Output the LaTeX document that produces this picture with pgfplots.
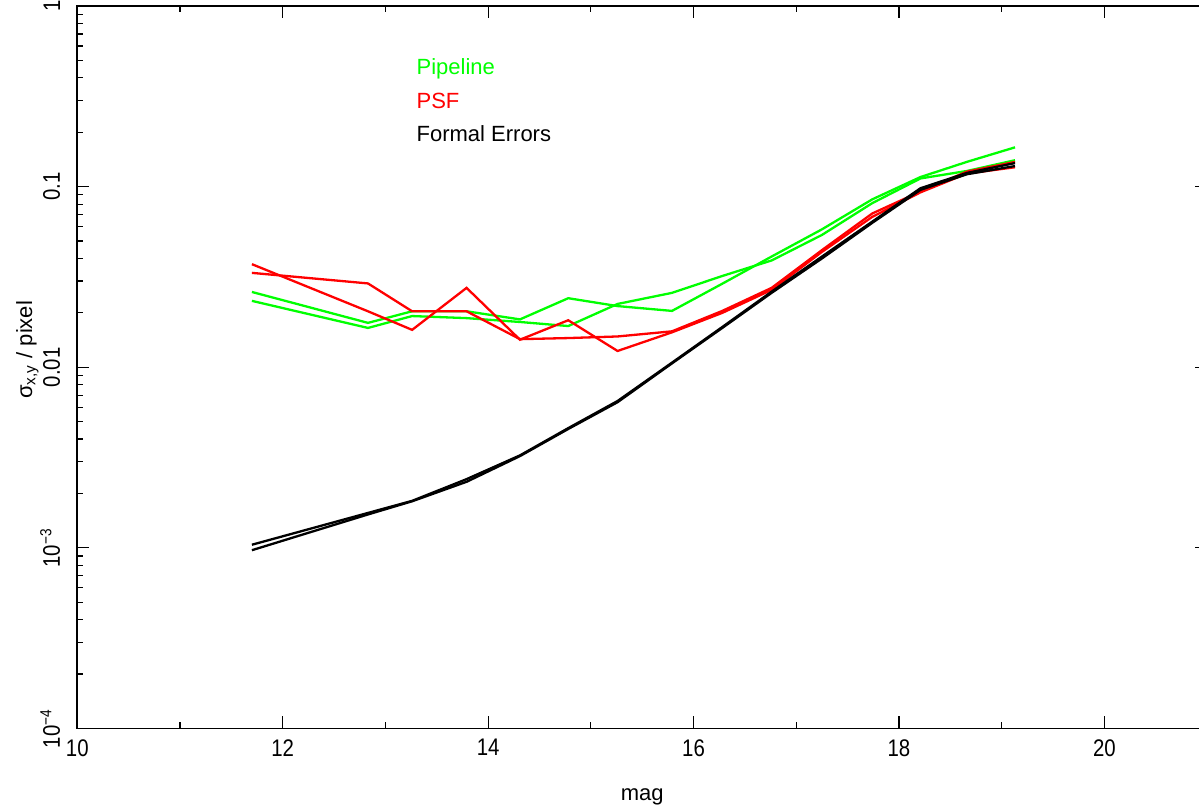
\documentclass[border=0pt]{standalone}
\usepackage{fontspec}
\setmainfont{Liberation Sans}
\newfontfamily\tickfont{Liberation Sans}[FakeStretch=0.85]
\usepackage{pgfplots}
\pgfplotsset{compat=1.18}
\definecolor{pgreen}{RGB}{0,255,0}
\definecolor{pred}{RGB}{255,0,0}

\begin{document}
\begin{tikzpicture}
\begin{axis}[name=ax, at={(0,0)}, anchor=south west, scale only axis,
  width=564.9pt, height=361.2pt,
  xmin=10, xmax=21, ymode=log, ymin=1e-4, ymax=1,
  xtick={10,12,14,16,18,20}, minor xtick={11,13,15,17,19,21},
  xticklabels={10,12,14,16,18,20},
  ytick={1e-4,1e-3,1e-2,1e-1,1},
  yticklabels={10\textsuperscript{−4},10\textsuperscript{−3},0.01,0.1,1},
  tick align=inside, major tick length=6pt, minor tick length=3pt,
  every tick/.style={black, line width=0.6pt},
  axis line style={line width=0.8pt},
  tick label style={font=\tickfont\fontsize{12}{14}\selectfont},
  yticklabel style={rotate=90, anchor=south},
  yticklabel shift=5pt,
  xticklabel shift=2pt,
  xlabel={mag},
  xlabel style={at={(axis description cs:0.5,-0.0997)}, anchor=base, font=\fontsize{11}{13}\selectfont},
  ylabel={σ\textsubscript{x,y} / pixel},
  ylabel style={at={(axis description cs:-0.040,0.524)}, anchor=base, font=\fontsize{11}{13}\selectfont},
  every axis plot/.append style={line width=1.15pt, no markers},
]
% Pipeline
\addplot[pgreen] coordinates {(11.7,0.0261) (12.83,0.0176) (13.26,0.0204) (13.79,0.0204) (14.31,0.0184) (14.78,0.0241) (15.26,0.0218) (15.79,0.0205) (16.28,0.0290) (16.76,0.0410) (17.25,0.058) (17.74,0.085) (18.21,0.113) (18.66,0.137) (19.13,0.165)};
\addplot[pgreen] coordinates {(11.7,0.0233) (12.83,0.0165) (13.26,0.0192) (13.79,0.0187) (14.31,0.0178) (14.78,0.0169) (15.26,0.0224) (15.79,0.0258) (16.28,0.0320) (16.76,0.0390) (17.25,0.054) (17.74,0.081) (18.21,0.111) (18.66,0.122) (19.13,0.140)};
% PSF
\addplot[pred] coordinates {(11.7,0.0333) (12.83,0.0291) (13.26,0.0204) (13.79,0.0204) (14.31,0.0143) (14.78,0.0145) (15.26,0.0148) (15.79,0.0158) (16.28,0.0205) (16.76,0.0275) (17.25,0.0445) (17.74,0.071) (18.21,0.094) (18.66,0.121) (19.13,0.137)};
\addplot[pred] coordinates {(11.7,0.0372) (12.83,0.0204) (13.26,0.0161) (13.79,0.0275) (14.31,0.0142) (14.78,0.0182) (15.26,0.0123) (15.79,0.0156) (16.28,0.0200) (16.76,0.0268) (17.25,0.0435) (17.74,0.068) (18.21,0.093) (18.66,0.118) (19.13,0.128)};
% Formal errors
\addplot[black] coordinates {(11.7,0.00104) (12.83,0.00156) (13.26,0.00182) (13.79,0.00240) (14.31,0.00325) (14.78,0.0046) (15.26,0.0065) (15.79,0.0106) (16.28,0.0167) (16.76,0.0262) (17.25,0.041) (17.74,0.064) (18.21,0.098) (18.66,0.119) (19.13,0.135)};
\addplot[black] coordinates {(11.7,0.00097) (12.83,0.00153) (13.26,0.00181) (13.79,0.00232) (14.31,0.00322) (14.78,0.00455) (15.26,0.0064) (15.79,0.0105) (16.28,0.0165) (16.76,0.0258) (17.25,0.040) (17.74,0.063) (18.21,0.096) (18.66,0.117) (19.13,0.130)};
\node[anchor=base west, text=pgreen, font=\fontsize{11}{13}\selectfont, inner sep=0pt] at (axis cs:13.30,0.418) {Pipeline};
\node[anchor=base west, text=pred, font=\fontsize{11}{13}\selectfont, inner sep=0pt] at (axis cs:13.30,0.271) {PSF};
\node[anchor=base west, text=black, font=\fontsize{11}{13}\selectfont, inner sep=0pt] at (axis cs:13.30,0.177) {Formal Errors};
\end{axis}
\pgfresetboundingbox
\path[use as bounding box] (-38.65pt,-40.35pt) rectangle (560.85pt,364.2pt);
\end{tikzpicture}
\end{document}
